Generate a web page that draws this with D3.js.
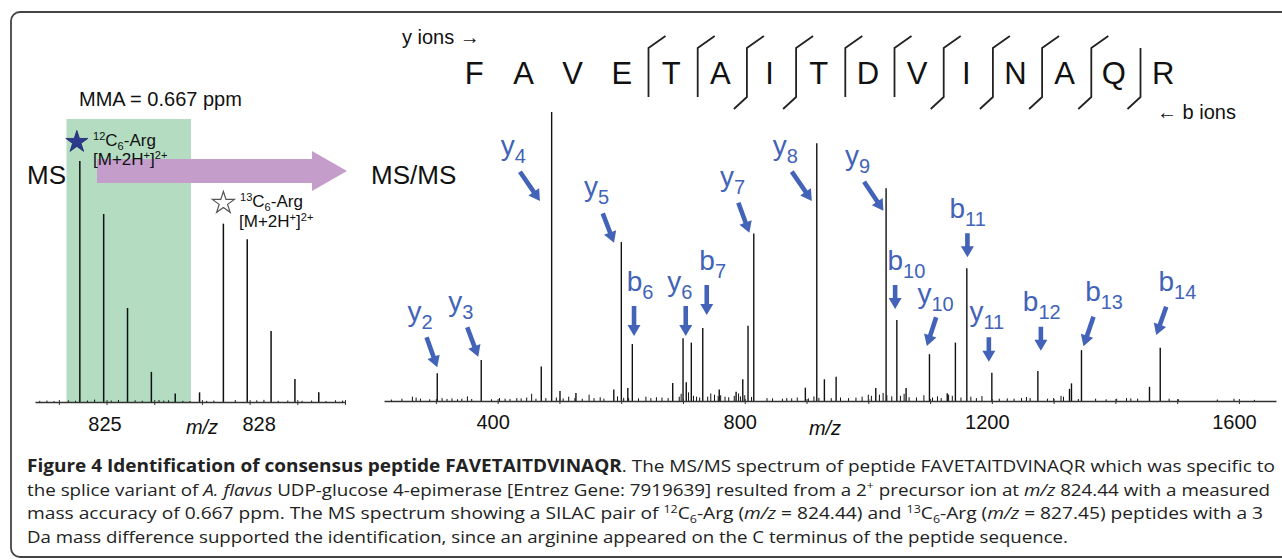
<!DOCTYPE html>
<html>
<head>
<meta charset="utf-8">
<script src="https://cdn.jsdelivr.net/npm/d3@7"></script>
<style>
  html, body { margin: 0; padding: 0; background: #fff; }
  svg { display: block; }
</style>
</head>
<body>
<svg id="fig" width="1282" height="560"></svg>
<script>
// peptide and the fragment ions that were seen
const residues = "FAVETAITDVINAQR".split("");
const yIonsSeen = [2, 3, 4, 5, 6, 7, 8, 9, 10, 11];
const bIonsSeen = [6, 7, 10, 11, 12, 13, 14];

// MS survey scan: [m/z, relative intensity %]
const msLight = [[824.44, 100], [824.94, 78], [825.44, 39], [825.94, 12.5], [826.44, 3.5]];
const msHeavy = [[826.95, 4], [827.45, 74], [827.95, 67.5], [828.45, 29.5], [828.95, 9.5], [829.45, 4]];
const msNoise = [[823.6, 0.5], [823.75, 0.6], [823.9, 0.4], [824.2, 0.7], [824.35, 0.5], [824.6, 0.6],
  [824.75, 1.0], [825.1, 0.6], [825.25, 0.8], [825.6, 0.7], [825.75, 0.5], [826.1, 0.8], [826.2, 0.6],
  [826.3, 0.7], [826.6, 0.5], [826.75, 0.4], [827.1, 0.5], [827.25, 0.6], [827.7, 0.8], [828.15, 0.7],
  [828.3, 0.9], [828.6, 0.5], [828.8, 0.6], [829.1, 0.5], [829.3, 0.6], [829.6, 0.4], [829.8, 0.7], [829.95, 0.6]];
const msWindow = [824.16, 826.77];
const msTicks = [824, 825, 826, 827, 828, 829, 830];
const msTickLabels = [825, 828];

// MS/MS: annotated fragments [ion, m/z, relative intensity %]
const msmsIons = [
  ["y2", 302.2, 9.6], ["y3", 373.4, 14.2], ["y4", 487.4, 100], ["y5", 600.2, 55],
  ["b6", 618.0, 19.7], ["y6", 700.1, 21.7], ["b7", 732.0, 25.3], ["y7", 814.6, 58],
  ["y8", 916.6, 89.2], ["y9", 1028.8, 73.6], ["b10", 1046.2, 28], ["y10", 1099.0, 16.2],
  ["b11", 1159.5, 45.9], ["y11", 1200.0, 9.8], ["b12", 1274.5, 10.4], ["b13", 1345.1, 17.6],
  ["b14", 1472.6, 18.4]
];
const msmsOther = [[470.6, 11.9], [500.9, 3.5], [526.7, 2.8], [588, 4], [610.7, 4.5], [683.4, 6.2],
  [705.3, 6.5], [713.5, 20.2], [758.7, 4], [786, 3.2], [796.8, 7.5], [805.3, 26], [898.1, 4.6],
  [928.9, 7.5], [947.9, 8.4], [1012.1, 4.5], [1061.2, 4.5], [1127.8, 2.7], [1141, 20.2],
  [1325.7, 4.2], [1328.9, 6.1], [1455.2, 4.9]];
const msmsNoise = [[228, 0.5], [245, 0.8], [262, 1.5], [268, 1.2], [275, 0.8], [290, 0.6], [310, 1.0],
  [318, 0.7], [326, 0.9], [335, 0.6], [342, 0.8], [351, 1.6], [358, 0.7], [390, 0.6], [403, 1.0],
  [412, 0.8], [420, 0.7], [431, 1.0], [438, 0.9], [447, 1.2], [455, 2.5], [462, 0.8], [478, 1.0],
  [495, 1.2], [506, 0.9], [515, 1.5], [525, 1.0], [537, 0.8], [548, 2.2], [556, 1.0], [566, 1.3],
  [572, 0.8], [594, 1.6], [604, 1.1], [612, 1.0], [628, 0.9], [640, 1.5], [648, 1.0], [657, 1.3],
  [666, 1.2], [676, 1.0], [694, 1.5], [697, 2.5], [709, 3.0], [717, 1.8], [722, 1.5], [727, 1.2],
  [740, 1.5], [745, 2.6], [751, 2.2], [757, 1.7], [761, 2.0], [768, 1.5], [774, 1.3], [783, 1.8],
  [790, 2.6], [793, 1.6], [800, 2.0], [811, 1.4], [836, 1.0], [845, 0.9], [861, 0.8], [868, 1.0],
  [876, 0.9], [885, 1.2], [903, 0.9], [912, 1.6], [920, 1.1], [940, 1.0], [955, 1.2], [968, 1.0],
  [980, 1.2], [990, 1.5], [1000, 2.2], [1005, 1.8], [1018, 2.2], [1024, 2.8], [1030, 2.0], [1038, 1.6],
  [1052, 1.8], [1058, 2.5], [1066, 1.3], [1078, 1.2], [1090, 2.0], [1104, 1.2], [1112, 1.6], [1118, 1.0],
  [1130, 2.2], [1136, 1.8], [1150, 1.2], [1166, 1.5], [1175, 1.0], [1184, 1.7], [1212, 0.8], [1225, 0.9],
  [1236, 0.8], [1248, 1.0], [1256, 1.4], [1262, 1.0], [1290, 0.8], [1300, 1.0], [1312, 1.8], [1316, 1.5],
  [1340, 0.7], [1368, 0.8], [1385, 0.6], [1402, 0.8], [1418, 1.0], [1425, 0.9], [1436, 0.8], [1487, 0.8],
  [1502, 0.6], [1565, 0.5], [1592, 0.8], [1625, 0.4]];
const msmsTicks = [300, 400, 500, 600, 700, 800, 900, 1000, 1100, 1200, 1300, 1400, 1500, 1600];
const msmsTickLabels = [400, 800, 1200, 1600];

// caption, [text, style]
const captionLines = [
  [["Figure 4 Identification of consensus peptide FAVETAITDVINAQR", "b"],
   [". The MS/MS spectrum of peptide FAVETAITDVINAQR which was specific to", ""]],
  [["the splice variant of ", ""], ["A. flavus", "i"],
   [" UDP-glucose 4-epimerase [Entrez Gene: 7919639] resulted from a 2", ""], ["+", "sup"],
   [" precursor ion at ", ""], ["m/z", "i"], [" 824.44 with a measured", ""]],
  [["mass accuracy of 0.667 ppm. The MS spectrum showing a SILAC pair of ", ""], ["12", "sup"], ["C", ""],
   ["6", "sub"], ["-Arg (", ""], ["m/z", "i"], [" = 824.44) and ", ""], ["13", "sup"], ["C", ""], ["6", "sub"],
   ["-Arg (", ""], ["m/z", "i"], [" = 827.45) peptides with a 3", ""]],
  [["Da mass difference supported the identification, since an arginine appeared on the C terminus of the peptide sequence.", ""]]
];
const captionWidths = [1248, 1243, 1236, 1041];

// arrow tip relative to peak top, tail relative to tip, label relative to tail
const annotLayout = {
  y2: { tip: [0, -6], tail: [-10.7, -30], label: [-19, -16] },
  y3: { tip: [-3, -3.3], tail: [-11, -29.4], label: [-19, -16.3] },
  y4: { tip: [-11.7, 89], tail: [-20, -29.3], label: [-19.3, -16.7] },
  y5: { tip: [-7.3, 0.7], tail: [-11.3, -29.4], label: [-18.7, -17.3] },
  b6: { tip: [1.7, -8], tail: [0, -30], label: [-7.3, -15] },
  y6: { tip: [2.7, -2.3], tail: [0, -30], label: [-18.4, -15] },
  b7: { tip: [4, -13], tail: [0, -30], label: [-7.4, -15] },
  y7: { tip: [-4.4, -0.6], tail: [-11, -30], label: [-18.3, -16.7] },
  y8: { tip: [-5, 57.7], tail: [-20, -29.3], label: [-19, -16.7] },
  y9: { tip: [-2.7, 22.4], tail: [-19.3, -29], label: [-19, -16.7] },
  b10: { tip: [-1.7, -11], tail: [0, -24], label: [-7.7, -15] },
  y10: { tip: [-2.6, -8.3], tail: [9.3, -28.7], label: [-18.7, -14.3] },
  b11: { tip: [0.6, -11], tail: [0, -24], label: [-18, -15.3] },
  y11: { tip: [-3, -11], tail: [0, -24.4], label: [-19.4, -16.3] },
  b12: { tip: [3, -20.3], tail: [0, -24], label: [-18, -15.7] },
  b13: { tip: [2, -4], tail: [10, -29.3], label: [-8.3, -15.7] },
  b14: { tip: [-4, -12.7], tail: [10, -28.3], label: [-7.7, -15.7] }
};

const SANS = "'Liberation Sans', Arial, Helvetica, sans-serif";
const CAP = "'Open Sans', 'Liberation Sans', sans-serif";
const BLUE = "#4263b8";
const INK = "#111";

const svg = d3.select("#fig");

// rich text helper: bold / italic / super- and subscripts as tspans
function addRich(textSel, segs, size) {
  let shift = 0;
  segs.forEach(([t, s]) => {
    const target = s === "sup" ? -0.38 * size : s === "sub" ? 0.22 * size : 0;
    const ts = textSel.append("tspan").text(t).attr("dy", target - shift);
    shift = target;
    if (s === "b") ts.attr("font-weight", "bold");
    if (s === "i") ts.attr("font-style", "italic");
    if (s === "sup" || s === "sub") ts.attr("font-size", size * 0.65);
  });
}

function arrowPath(x0, y0, x1, y1) {
  const dx = x1 - x0, dy = y1 - y0, len = Math.hypot(dx, dy);
  const ux = dx / len, uy = dy / len, px = -uy, py = ux;
  const hl = 11, hw = 6.5, sw = 2.3;
  const bx = x1 - ux * hl, by = y1 - uy * hl;
  const pts = [
    [x0 + px * sw, y0 + py * sw], [bx + px * sw, by + py * sw], [bx + px * hw, by + py * hw],
    [x1, y1], [bx - px * hw, by - py * hw], [bx - px * sw, by - py * sw], [x0 - px * sw, y0 - py * sw]
  ];
  return "M" + pts.map(p => p.join(",")).join("L") + "Z";
}

// figure frame
svg.append("rect")
  .attr("x", 11).attr("y", 12).attr("width", 1300).attr("height", 545).attr("rx", 9)
  .attr("fill", "none").attr("stroke", "#444").attr("stroke-width", 1.8);

// ---------- MS panel ----------
const msX = d3.scaleLinear().domain([823.5, 830.0]).range([35, 345]);
const msY = d3.scaleLinear().domain([0, 100]).range([402, 161]);

svg.append("rect")
  .attr("x", msX(msWindow[0])).attr("y", 119)
  .attr("width", msX(msWindow[1]) - msX(msWindow[0])).attr("height", msY(0) - 119)
  .attr("fill", "#b3dcc1");

svg.append("path")
  .attr("d", "M97,159L312,159L312,151L347,171L312,191L312,183L97,183Z")
  .attr("fill", "#c59dcb");

svg.append("g").selectAll("line").data(msNoise.concat(msLight, msHeavy)).join("line")
  .attr("x1", d => msX(d[0])).attr("x2", d => msX(d[0]))
  .attr("y1", msY(0)).attr("y2", d => msY(d[1]))
  .attr("stroke", INK).attr("stroke-width", d => d[1] > 2 ? 1.5 : 1);

const gMsAxis = svg.append("g").attr("transform", `translate(0,${msY(0)})`)
  .call(d3.axisBottom(msX).tickValues(msTicks).tickSize(3).tickSizeOuter(0)
    .tickFormat(d => msTickLabels.includes(d) ? d : ""));
gMsAxis.attr("font-family", SANS).attr("font-size", 20);
gMsAxis.select(".domain").attr("stroke", "#333").attr("stroke-width", 1.3);
gMsAxis.selectAll(".tick line").attr("stroke", "#333").attr("y1", -2).attr("y2", 3);
// the printed labels sit a little off their ticks
gMsAxis.selectAll(".tick text").attr("fill", INK).attr("y", 29).attr("dy", 0)
  .attr("dx", d => d === 828 ? 9 : -2);

svg.append("text").attr("x", 202).attr("y", 434).attr("text-anchor", "middle")
  .attr("font-family", SANS).attr("font-size", 20).attr("font-style", "italic").attr("fill", INK)
  .text("m/z");

svg.append("text").attr("x", 79).attr("y", 106)
  .attr("font-family", SANS).attr("font-size", 20).attr("fill", INK).text("MMA = 0.667 ppm");

svg.append("text").attr("x", 27).attr("y", 184)
  .attr("font-family", SANS).attr("font-size", 26).attr("fill", INK).text("MS");

const star = d3.symbol().type(d3.symbolStar).size(150);
svg.append("path").attr("d", star()).attr("transform", `translate(${msX(msLight[0][0]) - 3},142)`)
  .attr("fill", "#2b3a8f").attr("stroke", "#1b2466").attr("stroke-width", 0.8);
svg.append("path").attr("d", star()).attr("transform", `translate(${msX(msHeavy[1][0])},203)`)
  .attr("fill", "#fff").attr("stroke", "#555").attr("stroke-width", 1.2);

[[93, 146, [["12", "sup"], ["C", ""], ["6", "sub"], ["-Arg", ""]]],
 [93, 165, [["[M+2H", ""], ["+", "sup"], ["]", ""], ["2+", "sup"]]],
 [240, 207, [["13", "sup"], ["C", ""], ["6", "sub"], ["-Arg", ""]]],
 [239, 227, [["[M+2H", ""], ["+", "sup"], ["]", ""], ["2+", "sup"]]]
].forEach(([x, y, segs]) => {
  const t = svg.append("text").attr("x", x).attr("y", y)
    .attr("font-family", SANS).attr("font-size", 17).attr("fill", INK);
  addRich(t, segs, 17);
});

// ---------- MS/MS panel ----------
const msmsX = d3.scaleLinear().domain([216, 1660]).range([384, 1276]);
const msmsY = d3.scaleLinear().domain([0, 100]).range([401, 112]);

svg.append("g").selectAll("line").data(msmsNoise).join("line")
  .attr("x1", d => msmsX(d[0])).attr("x2", d => msmsX(d[0]))
  .attr("y1", msmsY(0)).attr("y2", d => msmsY(d[1]))
  .attr("stroke", INK).attr("stroke-width", 1);

svg.append("g").selectAll("line").data(msmsOther.concat(msmsIons.map(d => [d[1], d[2]]))).join("line")
  .attr("x1", d => msmsX(d[0])).attr("x2", d => msmsX(d[0]))
  .attr("y1", msmsY(0)).attr("y2", d => msmsY(d[1]))
  .attr("stroke", INK).attr("stroke-width", 1.4);

const gMsmsAxis = svg.append("g").attr("transform", `translate(0,${msmsY(0)})`)
  .call(d3.axisBottom(msmsX).tickValues(msmsTicks).tickSize(3).tickSizeOuter(0)
    .tickFormat(d => msmsTickLabels.includes(d) ? d : ""));
gMsmsAxis.attr("font-family", SANS).attr("font-size", 20);
gMsmsAxis.select(".domain").attr("stroke", "#333").attr("stroke-width", 1.3);
gMsmsAxis.selectAll(".tick line").attr("stroke", "#333").attr("y1", -2).attr("y2", 3);
gMsmsAxis.selectAll(".tick text").attr("fill", INK).attr("y", 28).attr("dy", 0).attr("dx", -5);

svg.append("text").attr("x", 825).attr("y", 435).attr("text-anchor", "middle")
  .attr("font-family", SANS).attr("font-size", 20).attr("font-style", "italic").attr("fill", INK)
  .text("m/z");

svg.append("text").attr("x", 371).attr("y", 184)
  .attr("font-family", SANS).attr("font-size", 26).attr("fill", INK).text("MS/MS");

// fragment labels with arrows
const annots = msmsIons.map(([ion, mz, inten]) => {
  const L = annotLayout[ion];
  const tip = [msmsX(mz) + L.tip[0], msmsY(inten) + L.tip[1]];
  const tail = [tip[0] + L.tail[0], tip[1] + L.tail[1]];
  return { ion, tip, tail, lab: [tail[0] + L.label[0], tail[1] + L.label[1]] };
});

const gAnn = svg.append("g");
gAnn.selectAll("path").data(annots).join("path")
  .attr("d", d => arrowPath(d.tail[0], d.tail[1], d.tip[0], d.tip[1]))
  .attr("fill", BLUE);

gAnn.selectAll("text").data(annots).join("text")
  .attr("x", d => d.lab[0]).attr("y", d => d.lab[1])
  .attr("font-family", SANS).attr("fill", BLUE)
  .each(function (d) {
    const t = d3.select(this);
    t.append("tspan").attr("font-size", 28).text(d.ion[0]);
    t.append("tspan").attr("font-size", 20).attr("dy", 8).text(d.ion.slice(1));
  });

// ---------- sequence header ----------
const seqX = d3.scaleBand().domain(d3.range(residues.length)).range([449.7, 1187.7]);

svg.append("g").selectAll("text").data(residues).join("text")
  .attr("x", (d, i) => seqX(i) + seqX.bandwidth() / 2).attr("y", 84)
  .attr("text-anchor", "middle").attr("font-family", SANS).attr("font-size", 31).attr("fill", INK)
  .text(d => d);

const cuts = d3.range(1, residues.length)
  .map(k => ({ k, y: yIonsSeen.includes(residues.length - k), b: bIonsSeen.includes(k) }))
  .filter(c => c.y || c.b);

svg.append("g").selectAll("path").data(cuts).join("path")
  .attr("d", c => {
    const x = seqX(c.k) + 2;
    let p = c.y ? `M${x + 17},36L${x},48` : `M${x},48`;
    p += `L${x},97`;
    if (c.b) p += `L${x - 13},109`;
    return p;
  })
  .attr("fill", "none").attr("stroke", "#222").attr("stroke-width", 1.8);

svg.append("text").attr("x", 402).attr("y", 44)
  .attr("font-family", SANS).attr("font-size", 20).attr("fill", INK).text("y ions \u2192");
svg.append("text").attr("x", 1157).attr("y", 119)
  .attr("font-family", SANS).attr("font-size", 20).attr("fill", INK).text("\u2190 b ions");

// ---------- caption ----------
captionLines.forEach((segs, i) => {
  const t = svg.append("text").attr("x", 27).attr("y", 472 + i * 23.5)
    .attr("font-family", CAP).attr("font-size", 17).attr("fill", "#222")
    .attr("textLength", captionWidths[i]).attr("lengthAdjust", "spacingAndGlyphs");
  addRich(t, segs, 17);
});
</script>
</body>
</html>
